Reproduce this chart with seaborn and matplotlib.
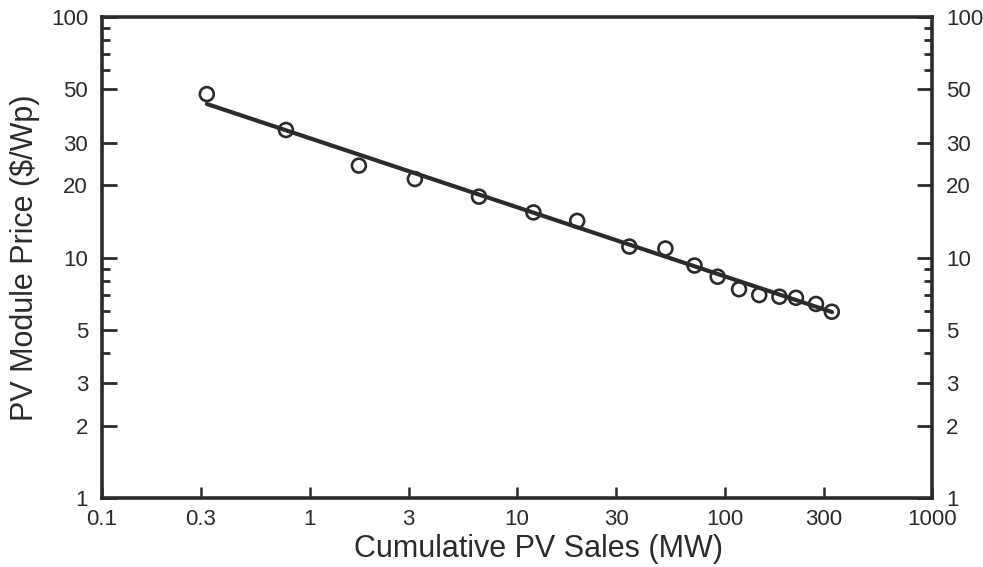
import matplotlib
matplotlib.use("Agg")
import matplotlib.pyplot as plt
import matplotlib.ticker as mticker
import seaborn as sns
import pandas as pd

# Cumulative PV sales (MW) and module price ($/Wp)
cumulative_sales_mw = [0.32, 0.77, 1.73, 3.22, 6.56, 12.0, 19.5, 34.8, 51.9,
                       71.7, 92.7, 117.5, 147, 184, 221, 276, 329]
module_price = [47.8, 33.9, 24.1, 21.2, 17.9, 15.4, 14.2, 11.1, 10.9,
                9.26, 8.32, 7.38, 6.98, 6.87, 6.80, 6.41, 5.95]

# Experience-curve fit end points
fit_sales_mw = [0.32, 330]
fit_price = [43.5, 5.93]

x_ticks = [0.1, 0.3, 1, 3, 10, 30, 100, 300, 1000]
x_tick_labels = ["0.1", "0.3", "1", "3", "10", "30", "100", "300", "1000"]
y_ticks = [1, 2, 3, 5, 10, 20, 30, 50, 100]
y_tick_labels = ["1", "2", "3", "5", "10", "20", "30", "50", "100"]
y_minor_ticks = [4, 6, 7, 8, 9, 60, 70, 80, 90]

points = pd.DataFrame({"sales": cumulative_sales_mw, "price": module_price})
fit = pd.DataFrame({"sales": fit_sales_mw, "price": fit_price})

sns.set_theme(style="ticks")
plt.rcParams["font.family"] = ["Liberation Sans", "DejaVu Sans"]

ink = "#2b2b2b"
fig = plt.figure(figsize=(9.83, 5.67), dpi=100)
ax = fig.add_axes([102 / 983, 1 - 498 / 567, 830 / 983, 481 / 567])

sns.lineplot(data=fit, x="sales", y="price", ax=ax, color=ink, linewidth=3.0)
sns.scatterplot(data=points, x="sales", y="price", ax=ax, marker="o",
                s=100, facecolor="none", edgecolor=ink, linewidth=1.9, zorder=3)

ax.set_xscale("log")
ax.set_yscale("log")
ax.set_xlim(0.1, 1000)
ax.set_ylim(1, 100)

ax.xaxis.set_major_locator(mticker.FixedLocator(x_ticks))
ax.xaxis.set_major_formatter(mticker.FixedFormatter(x_tick_labels))
ax.xaxis.set_minor_locator(mticker.NullLocator())
ax.yaxis.set_major_locator(mticker.FixedLocator(y_ticks))
ax.yaxis.set_major_formatter(mticker.FixedFormatter(y_tick_labels))
ax.yaxis.set_minor_locator(mticker.FixedLocator(y_minor_ticks))
ax.yaxis.set_minor_formatter(mticker.NullFormatter())

for side in ["left", "right", "top", "bottom"]:
    ax.spines[side].set_visible(True)
    ax.spines[side].set_linewidth(2.6)
    ax.spines[side].set_color(ink)

ax.tick_params(axis="both", which="both", direction="in", color=ink,
               labelcolor=ink, labelsize=16)
ax.tick_params(axis="y", which="major", left=True, right=True,
               labelleft=True, labelright=True, length=11, width=2.0, pad=10)
ax.tick_params(axis="y", which="minor", left=True, right=True,
               length=6, width=2.0)
ax.tick_params(axis="x", which="major", bottom=True, top=False,
               length=8, width=1.8, pad=8)

ax.set_xlabel("Cumulative PV Sales (MW)", fontsize=22, color=ink)
ax.set_ylabel("PV Module Price ($/Wp)", fontsize=22, color=ink)
ax.xaxis.set_label_coords((538 - 102) / 830, -0.074)
ax.yaxis.set_label_coords(-0.075, 0.5)

fig.savefig("out.png", dpi=100, facecolor="white")
